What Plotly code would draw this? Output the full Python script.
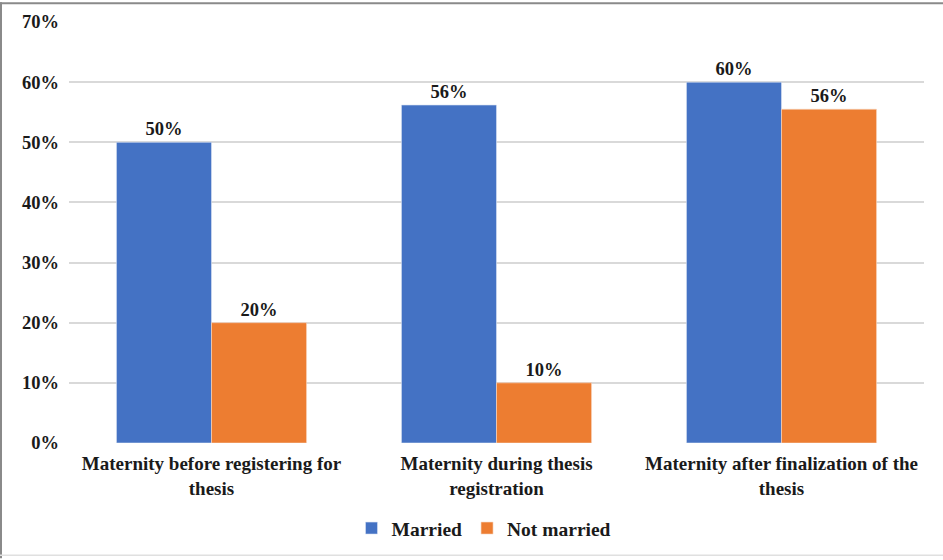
import plotly.graph_objects as go

categories = ["Maternity before registering for<br>thesis",
              "Maternity during thesis<br>registration",
              "Maternity after finalization of the<br>thesis"]
married = [50.0, 56.2, 60.0]
not_married = [20.0, 10.0, 55.5]
married_labels = ["50%", "56%", "60%"]
not_married_labels = ["20%", "10%", "56%"]
y_ticks = [0, 10, 20, 30, 40, 50, 60, 70]
y_tick_labels = ["0%", "10%", "20%", "30%", "40%", "50%", "60%", "70%"]

W, H = 943, 560
ml, mr, mt, mb = 69, 19, 20, 116
pw, ph = W - ml - mr, H - mt - mb

font_family = "Liberation Serif"
txt_color = "#1a1a1a"

fig = go.Figure()
fig.add_trace(go.Bar(
    name="<b>Married</b>", x=categories, y=married,
    text=[f"<b>{t}</b>" for t in married_labels], textposition="outside",
    marker=dict(color="#4472C4", line=dict(color="#dbe4f3", width=0.6)),
    cliponaxis=False,
))
fig.add_trace(go.Bar(
    name="<b>Not married</b>", x=categories, y=not_married,
    text=[f"<b>{t}</b>" for t in not_married_labels], textposition="outside",
    marker=dict(color="#ED7D31", line=dict(color="#f7d9c4", width=0.6)),
    cliponaxis=False,
))

def px_x(p):
    return (p - ml) / pw

def px_y(p):
    return (H - mb - p) / ph

shapes = [
    dict(type="line", xref="paper", yref="paper", x0=px_x(0), x1=px_x(W), y0=px_y(1), y1=px_y(1),
         line=dict(color="#8a8a8a", width=2)),
    dict(type="line", xref="paper", yref="paper", x0=px_x(1), x1=px_x(1), y0=px_y(0), y1=px_y(H),
         line=dict(color="#8a8a8a", width=2)),
    dict(type="line", xref="paper", yref="paper", x0=px_x(0), x1=px_x(W), y0=px_y(557), y1=px_y(557),
         line=dict(color="#e0e0e0", width=1.5)),
]

fig.update_layout(
    width=W, height=H,
    margin=dict(l=ml, r=mr, t=mt, b=mb),
    barmode="group", bargap=0.333, bargroupgap=0,
    plot_bgcolor="white", paper_bgcolor="white",
    font=dict(family=font_family, size=18.5, color=txt_color),
    legend=dict(orientation="h", x=px_x(484), xanchor="center", y=px_y(530), yanchor="middle",
                font=dict(family=font_family, size=19.5, color=txt_color),
                traceorder="normal"),
    shapes=shapes,
)
fig.update_traces(textfont=dict(family=font_family, size=18.5, color=txt_color))
fig.update_xaxes(tickvals=categories, ticktext=[f"<b>{c}</b>" for c in categories],
                 tickfont=dict(family=font_family, size=19, color=txt_color),
                 showline=False, ticks="", ticklabelstandoff=7)
fig.update_yaxes(range=[0, 70], tickvals=y_ticks, ticktext=[f"<b>{t}</b>" for t in y_tick_labels],
                 showgrid=True, gridcolor="#d9d9d9", gridwidth=1.5, zeroline=False,
                 tickfont=dict(family=font_family, size=18.5, color=txt_color), ticks="",
                 ticklabelstandoff=9)

fig.write_html("out.html", config={"displayModeBar": False},
               post_script="document.body.style.margin='0';")
